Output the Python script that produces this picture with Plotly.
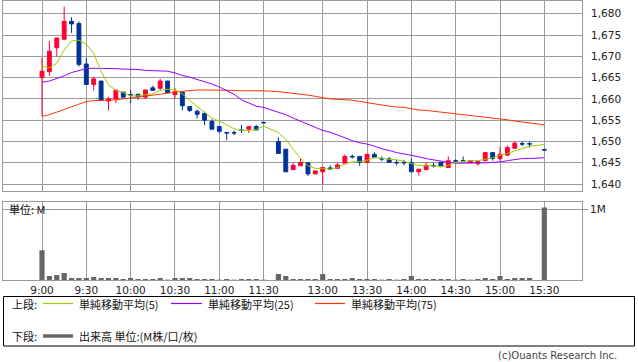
import plotly.graph_objects as go

# ---------------- data ----------------
morning_times = [f"{h}:{m:02d}" for h in (9, 10, 11) for m in range(0, 60, 5)
                 if not (h == 11 and m > 30)]
afternoon_times = [f"{h}:{m:02d}" for h in (12, 13, 14, 15) for m in range(0, 60, 5)
                   if not (h == 12 and m < 30) and not (h == 15 and m > 30)]
# axis slots: morning session, one blank slot for the lunch break, afternoon session
slots = morning_times + [""] + afternoon_times
# bars that traded (15:25 is the closing-auction window: no bar)
bar_times = morning_times + [t for t in afternoon_times if t != "15:25"]

opens = [1665, 1666.4, 1672, 1674, 1678.2, 1677.7, 1668.2, 1663.4, 1664.2, 1659.5,
         1660, 1661.6, 1661, 1661.1, 1660.4, 1662.6, 1662.5, 1664.2, 1661, 1661.6,
         1658.2, 1657.1, 1656.6, 1654.7, 1653.5, 1652.1, 1652.1, 1652.7, 1652.9, 1653.5, 1654.5,
         1650, 1648.2, 1643.4, 1644.3, 1645, 1642.4, 1642.9, 1643.8, 1643.7, 1644.9,
         1646.5, 1646.5, 1645.1, 1647, 1646, 1645.9, 1645.1, 1645.1, 1645, 1642.9,
         1643.4, 1644.4, 1645.1, 1643.9, 1645.5, 1645.5, 1645, 1644.8, 1645.5, 1647.4,
         1646, 1646.8, 1648.4, 1649.5, 1649.5, 1648.1]
highs = [1669.7, 1673.6, 1674.3, 1681.7, 1679.2, 1678.2, 1669.7, 1665.2, 1664.2, 1660.5,
         1662.1, 1661.6, 1662.1, 1661.1, 1662.1, 1663.1, 1664.7, 1664.2, 1662.6, 1661.6,
         1658.2, 1657.5, 1657, 1655.2, 1653.5, 1652.1, 1652.6, 1653.9, 1653.5, 1653.9, 1654.5,
         1651, 1648.2, 1645, 1646.1, 1645, 1643.1, 1643.9, 1644.4, 1645, 1647,
         1647, 1646.5, 1647, 1647.5, 1646.5, 1646.4, 1645.7, 1645.7, 1646, 1643.5,
         1645.1, 1645, 1645.1, 1646.5, 1645.8, 1646.5, 1645.5, 1645.3, 1647.4, 1647.4,
         1648.7, 1649.1, 1650, 1650, 1650, 1648.1]
lows = [1656, 1665.4, 1670, 1674, 1675.5, 1667.6, 1663.4, 1662, 1659.7, 1657.3,
        1659, 1660.4, 1659, 1659.8, 1660, 1662, 1662, 1661.4, 1660, 1657.3,
        1656.9, 1655.4, 1653.8, 1652.9, 1652, 1650.3, 1651.5, 1652, 1652, 1652.7, 1654.4,
        1647.2, 1642.9, 1643.4, 1644.3, 1641.9, 1642.4, 1639.9, 1643.3, 1643.7, 1644.9,
        1646, 1644.3, 1645.1, 1646.3, 1645.4, 1645.1, 1644.4, 1644.4, 1642.9, 1642,
        1643.4, 1643.9, 1644.3, 1643.9, 1645, 1645.3, 1645, 1644.3, 1645.5, 1645.5,
        1645.5, 1646.8, 1648.4, 1648.9, 1648.6, 1648.0]
closes = [1666.5, 1671.2, 1674.3, 1678.2, 1677.6, 1668.1, 1663.4, 1664.7, 1659.7, 1660,
          1662.1, 1660.4, 1660.9, 1660.5, 1662.1, 1662, 1664.2, 1661.4, 1661.6, 1658.4,
          1657.3, 1656.4, 1655, 1652.9, 1652.4, 1652.0, 1652.0, 1652.6, 1653.5, 1652.7, 1654.4,
          1647.2, 1642.9, 1644.4, 1645.1, 1642.4, 1643.1, 1643.9, 1643.6, 1644.5, 1646.5,
          1646.4, 1645.1, 1647, 1646.3, 1645.9, 1645.1, 1645.0, 1645.0, 1642.9, 1643.5,
          1644.4, 1644.3, 1644.3, 1645.5, 1645.4, 1645.4, 1645.5, 1645.3, 1647.4, 1646,
          1647, 1648.6, 1649.6, 1649.4, 1649.4, 1648.0]

ma5 = [1667.7, 1667.3, 1668.4, 1671.5, 1673.6, 1673.8, 1672.8, 1670.7, 1666.4, 1663.3,
       1662.0, 1661.5, 1660.7, 1660.7, 1661.0, 1661.2, 1662.0, 1662.3, 1662.1, 1661.2,
       1659.6, 1658.3, 1656.9, 1655.5, 1654.8, 1653.8, 1653.0, 1652.6, 1652.6, 1652.8, 1653.6,
       1652.1, 1650.5, 1648.2, 1646.0, 1644.3, 1643.7, 1643.7, 1643.5, 1643.9, 1644.7,
       1645.2, 1645.3, 1645.6, 1646.2, 1646.1, 1645.8, 1645.7, 1645.4, 1644.8, 1644.4,
       1644.3, 1644.3, 1644.0, 1644.4, 1645.1, 1645.3, 1645.5, 1645.5, 1645.8, 1646.2,
       1646.8, 1647.2, 1647.8, 1648.3, 1648.9, 1649.3]
ma25 = [1663.9, 1664.2, 1664.8, 1665.4, 1666.2, 1666.7, 1667.1, 1667.2, 1667.2, 1667.2,
        1667.1, 1667.0, 1667.0, 1666.9, 1666.7, 1666.6, 1666.6, 1666.5, 1666.1, 1665.5,
        1665.1, 1664.6, 1664.1, 1663.5, 1662.8, 1662.0, 1661.1, 1659.8, 1659.0, 1658.3, 1658.0,
        1656.9, 1656.3, 1655.5, 1654.8, 1654.1, 1653.4, 1652.6, 1652.2, 1651.5, 1650.8,
        1650.2, 1649.7, 1649.4, 1648.9, 1648.3, 1647.9, 1647.4, 1647.1, 1646.8, 1646.4,
        1646.0, 1645.7, 1645.3, 1645.1, 1644.9, 1644.9, 1644.9, 1644.9, 1645.0, 1645.1,
        1645.2, 1645.5, 1645.8, 1646.0, 1646.0, 1646.2]
ma75 = [1655.9, 1656.3, 1656.9, 1657.5, 1658.1, 1658.8, 1659.4, 1659.6, 1659.6, 1659.7,
        1659.8, 1660.0, 1660.2, 1660.4, 1660.6, 1660.8, 1661.1, 1661.4, 1661.7, 1661.8,
        1662.0, 1662.1, 1662.1, 1662.1, 1662.1, 1662.1, 1662.0, 1661.9, 1661.9, 1661.9, 1661.9,
        1661.7, 1661.5, 1661.4, 1661.1, 1660.9, 1660.6, 1660.3, 1660.0, 1659.9, 1659.8,
        1659.7, 1659.4, 1659.1, 1658.9, 1658.6, 1658.3, 1658.1, 1658.0, 1657.7, 1657.4,
        1657.3, 1657.1, 1656.9, 1656.7, 1656.5, 1656.3, 1656.2, 1656.0, 1655.8, 1655.5,
        1655.3, 1655.1, 1654.8, 1654.6, 1654.4, 1653.9]

volumes = [0.42, 0.056, 0.07, 0.099, 0.028, 0.028, 0.028, 0.042, 0.028, 0.028,
           0.028, 0.014, 0.028, 0.014, 0.014, 0.014, 0.028, 0.005, 0.028, 0.028,
           0.028, 0.014, 0.014, 0.014, 0.005, 0.014, 0.005, 0.014, 0.014, 0.014, 0.005,
           0.085, 0.056, 0.014, 0.014, 0.014, 0.014, 0.085, 0.014, 0.014, 0.014,
           0.028, 0.014, 0.014, 0.014, 0.005, 0.014, 0.005, 0.014, 0.056, 0.014,
           0.014, 0.014, 0.014, 0.014, 0.005, 0.014, 0.005, 0.014, 0.028, 0.014,
           0.056, 0.014, 0.028, 0.028, 0.028, 1.02]

tick_labels = ["9:00", "9:30", "10:00", "10:30", "11:00", "11:30",
               "13:00", "13:30", "14:00", "14:30", "15:00", "15:30"]
price_ticks = [1640, 1645, 1650, 1655, 1660, 1665, 1670, 1675, 1680]
vol_ticks = [1]
vol_tick_labels = ["1M"]

ma_names = ["単純移動平均(5)", "単純移動平均(25)", "単純移動平均(75)"]
vol_name = "出来高 単位:(M株/口/枚)"

# ---------------- styling ----------------
W, H = 638, 362
RED = "#FF0033"
BLUE = "#003399"
GRID = "#9a9a9a"
MA_COLORS = ["#99CC00", "#9900FF", "#FF3300"]
VOL_COLOR = "#666666"
NUM_FONT = "DejaVu Sans"
JP_FONT = "Noto Sans CJK JP"

x_bar = [slots.index(t) for t in bar_times]
tick_pos = [slots.index(t) for t in tick_labels]

def px(x):
    return x / W

def py(y):
    return 1 - y / H

fig = go.Figure()

fig.add_trace(go.Candlestick(
    x=x_bar, open=opens, high=highs, low=lows, close=closes,
    increasing=dict(line=dict(color=RED, width=1), fillcolor=RED),
    decreasing=dict(line=dict(color=BLUE, width=1), fillcolor=BLUE),
    whiskerwidth=0, hoverinfo="skip", showlegend=False,
    xaxis="x", yaxis="y"))

for vals, col, name in zip([ma75, ma25, ma5], MA_COLORS[::-1], ma_names[::-1]):
    fig.add_trace(go.Scatter(
        x=x_bar, y=vals, mode="lines", name=name,
        line=dict(color=col, width=1), hoverinfo="skip", showlegend=False,
        xaxis="x", yaxis="y"))

fig.add_trace(go.Bar(
    x=x_bar, y=volumes, width=0.7, marker=dict(color=VOL_COLOR, line=dict(width=0)),
    name=vol_name, hoverinfo="skip", showlegend=False, xaxis="x2", yaxis="y2"))

x_range = [-5.28, 73.1]
xdom = [px(3), px(582)]

common_x = dict(range=x_range, tickmode="array", tickvals=tick_pos, showgrid=True,
                gridcolor=GRID, gridwidth=1, zeroline=False, showline=True,
                linecolor=GRID, linewidth=1, mirror=True, fixedrange=True)

fig.update_layout(
    width=W, height=H, autosize=False,
    margin=dict(l=0, r=0, t=0, b=0),
    paper_bgcolor="white", plot_bgcolor="white",
    showlegend=False, boxgap=0.25, hovermode=False,
    xaxis=dict(domain=xdom, anchor="y", showticklabels=False,
               rangeslider=dict(visible=False), **common_x),
    xaxis2=dict(domain=xdom, anchor="y2", matches="x", ticktext=tick_labels,
                showticklabels=True, ticks="", ticklen=0,
                tickfont=dict(family=NUM_FONT, size=10.5, color="#222"), **common_x),
    yaxis=dict(domain=[py(190.5), py(0.5)], anchor="x", side="right",
               range=[1638.5, 1683.1], tickmode="array", tickvals=price_ticks,
               tickformat=",", ticks="outside", ticklen=6, tickcolor="rgba(0,0,0,0)",
               tickfont=dict(family=NUM_FONT, size=10.5, color="#222"),
               showgrid=True, gridcolor=GRID, gridwidth=1, zeroline=False,
               showline=True, linecolor=GRID, linewidth=1, mirror=True, fixedrange=True),
    yaxis2=dict(domain=[py(280), py(201.7)], anchor="x2", side="right",
                range=[0, 1.103], tickmode="array", tickvals=vol_ticks,
                ticktext=vol_tick_labels, ticks="outside", ticklen=5, tickcolor=GRID,
                tickfont=dict(family=NUM_FONT, size=10.5, color="#222"),
                showgrid=True, gridcolor=GRID, gridwidth=1, zeroline=False,
                showline=True, linecolor=GRID, linewidth=1, mirror=True, fixedrange=True),
)

# ---------------- legend box & notes ----------------
shapes = [dict(type="rect", xref="paper", yref="paper",
               x0=px(3.5), x1=px(634.5), y0=py(346), y1=py(296.5),
               line=dict(color="#000", width=1), fillcolor="rgba(0,0,0,0)")]
legend_lines = [(43, 73, 303.5), (171, 202, 303.5), (315, 345, 303.5)]
for (x0, x1, yy), col in zip(legend_lines, MA_COLORS):
    shapes.append(dict(type="line", xref="paper", yref="paper",
                       x0=px(x0), x1=px(x1), y0=py(yy), y1=py(yy),
                       line=dict(color=col, width=1.2)))
shapes.append(dict(type="line", xref="paper", yref="paper",
                   x0=px(43), x1=px(73), y0=py(336), y1=py(336),
                   line=dict(color=VOL_COLOR, width=3.5)))

jp = dict(family=JP_FONT, size=11, color="#111")
annotations = [
    dict(text="単位: M", x=px(8), y=py(209), xanchor="left", yanchor="middle"),
    dict(text="上段:", x=px(11), y=py(303.5), xanchor="left", yanchor="middle"),
    dict(text=ma_names[0], x=px(78), y=py(303.5), xanchor="left", yanchor="middle"),
    dict(text=ma_names[1], x=px(207), y=py(303.5), xanchor="left", yanchor="middle"),
    dict(text=ma_names[2], x=px(350), y=py(303.5), xanchor="left", yanchor="middle"),
    dict(text="下段:", x=px(11), y=py(336), xanchor="left", yanchor="middle"),
    dict(text=vol_name, x=px(78), y=py(336), xanchor="left", yanchor="middle"),
]
for a in annotations:
    a.update(xref="paper", yref="paper", showarrow=False, font=jp, borderpad=0)
annotations.append(dict(text="(c)Ouants Research Inc.", x=px(618), y=py(355),
                        xref="paper", yref="paper", xanchor="right", yanchor="middle",
                        showarrow=False, borderpad=0,
                        font=dict(family=NUM_FONT, size=10, color="#444")))

fig.update_layout(shapes=shapes, annotations=annotations)

fig.write_html("out.html", config={"displayModeBar": False, "staticPlot": True},
               post_script="document.body.style.margin='0';document.body.style.overflow='hidden';")
